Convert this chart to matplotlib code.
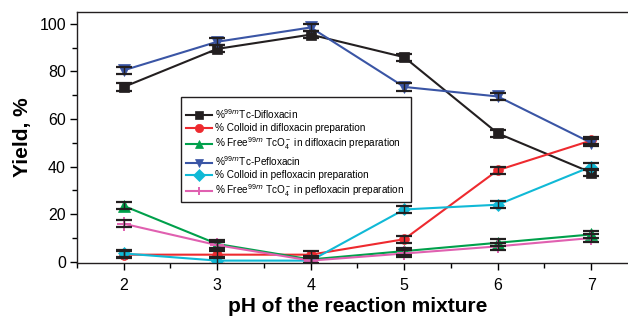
import matplotlib.pyplot as plt
from matplotlib.patches import Rectangle

plt.rcParams['font.family'] = ['Liberation Sans', 'DejaVu Sans']
plt.rcParams['mathtext.fontset'] = 'custom'
plt.rcParams['mathtext.rm'] = 'Liberation Sans'

ph = [2, 3, 4, 5, 6, 7]

tc_diflox = [73.5, 89.5, 95.5, 86.0, 54.0, 37.5]
colloid_diflox = [3.0, 3.0, 3.0, 9.5, 38.5, 51.0]
free_diflox = [23.5, 7.5, 1.0, 4.5, 8.0, 11.5]
tc_peflox = [80.5, 92.5, 98.5, 73.5, 69.5, 50.0]
colloid_peflox = [3.5, 0.5, 0.5, 22.0, 24.0, 40.0]
free_peflox = [16.0, 7.0, 0.5, 3.5, 6.5, 10.0]

errors = [1.5, 1.5, 1.5, 1.5, 1.5, 1.5]

labels = [
    r'%$^{99m}$Tc-Difloxacin',
    '% Colloid in difloxacin preparation',
    r'% Free$^{99m}$ TcO$_4^-$ in difloxacin preparation',
    r'%$^{99m}$Tc-Pefloxacin',
    '% Colloid in pefloxacin preparation',
    r'% Free$^{99m}$ TcO$_4^-$ in pefloxacin preparation',
]

series = [
    (tc_diflox, '#231f20', 's', 7),
    (colloid_diflox, '#ee2a2f', 'o', 7),
    (free_diflox, '#00a04b', '^', 8),
    (tc_peflox, '#3a55a5', 'v', 8),
    (colloid_peflox, '#10b9d6', 'D', 6),
    (free_peflox, '#e060b0', '+', 10),
]

fig = plt.figure(figsize=(6.28, 3.22), dpi=100)
ax = fig.add_axes([77 / 628, 59 / 322, 561 / 628, 251 / 322])

handles = []
for (vals, col, mk, ms), lab in zip(series, labels):
    ax.errorbar(ph, vals, yerr=errors, fmt='none', ecolor='#231f20',
                elinewidth=1.0, capsize=5.5, capthick=1.6, zorder=4)
    h, = ax.plot(ph, vals, color=col, marker=mk, markersize=ms, lw=1.5,
                 markeredgewidth=1.4 if mk == '+' else 0.5,
                 markeredgecolor=col, label=lab, zorder=3)
    handles.append(h)

ax.set_xlim(1.5, 7.5)
ax.set_ylim(-0.5, 105)
ax.set_xticks(ph)
ax.set_xticks([1.5, 2.5, 3.5, 4.5, 5.5, 6.5], minor=True)
ax.set_yticks([0, 20, 40, 60, 80, 100])
ax.set_yticks([10, 30, 50, 70, 90], minor=True)
ax.tick_params(direction='out', length=5, width=1, labelsize=11.5, pad=3)
ax.tick_params(which='minor', direction='out', length=3.5, width=1)
ax.tick_params(axis='x', pad=6)

for sp in ax.spines.values():
    sp.set_color('#231f20')
    sp.set_linewidth(1.0)

ax.set_xlabel('pH of the reaction mixture', fontsize=15, fontweight='bold', labelpad=3)
ax.set_ylabel('Yield, %', fontsize=15, fontweight='bold', labelpad=5)

# legend frame drawn by hand (taller padding than the legend's own frame)
ax.add_patch(Rectangle((181 / 628, 1 - 202 / 322), 230 / 628, 105 / 322,
                       transform=fig.transFigure, fill=True,
                       facecolor='white', edgecolor='#231f20', lw=1.0,
                       zorder=5, clip_on=False))

leg = ax.legend(handles=handles, loc='upper left',
                bbox_to_anchor=(186 / 628, 1 - 107 / 322),
                bbox_transform=fig.transFigure, fontsize=7.2, frameon=False,
                borderpad=0, labelspacing=0.22, handlelength=2.6,
                handletextpad=0.3, borderaxespad=0)
leg.set_zorder(6)
for lh in leg.legend_handles:
    lh.set_markersize(6)

fig.savefig('out.png', dpi=100)
